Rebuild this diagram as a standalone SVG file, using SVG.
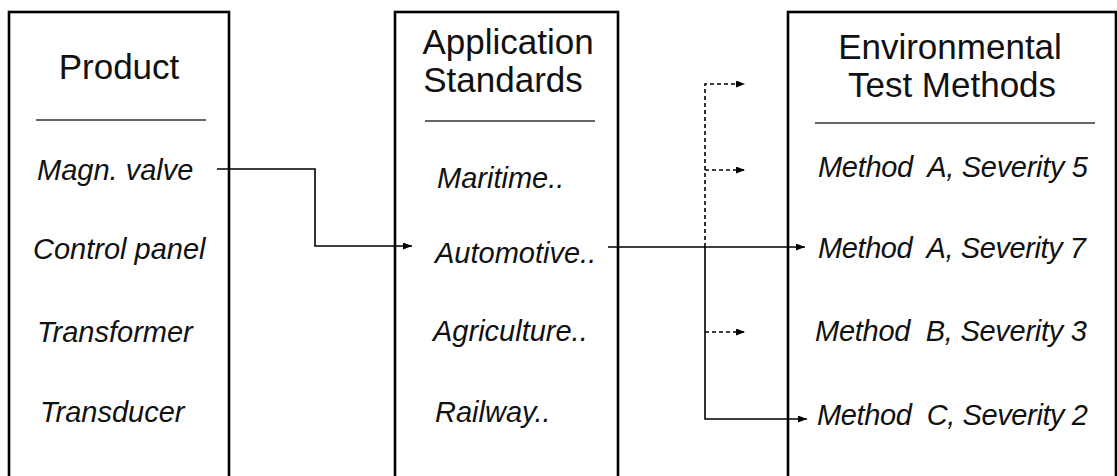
<svg xmlns="http://www.w3.org/2000/svg" width="1117" height="476" viewBox="0 0 1117 476">
<style>
.box{fill:#fff;stroke:#000;stroke-width:2.6}
.sep{stroke:#333;stroke-width:1.6}
.hd{font-family:"Liberation Sans",Arial,sans-serif;font-size:35px;fill:#111;text-anchor:middle}
.it{font-family:"Liberation Sans",Arial,sans-serif;font-size:29px;font-style:italic;fill:#111}
.ln{fill:none;stroke:#000;stroke-width:1.6}
.dl{fill:none;stroke:#000;stroke-width:1.6;stroke-dasharray:4 3}
</style>
<defs>
<marker id="ah" markerUnits="userSpaceOnUse" markerWidth="9" markerHeight="7" refX="9" refY="3.5" orient="auto">
<path d="M0,0 L9,3.5 L0,7 z" fill="#000"/>
</marker>
</defs>
<rect width="1117" height="476" fill="#fff"/>
<g id="product">
<rect class="box" x="9" y="12" width="220" height="480"/>
<text class="hd" x="119" y="79">Product</text>
<line class="sep" x1="36" y1="120" x2="206" y2="120"/>
<text class="it" x="37" y="180">Magn. valve</text>
<text class="it" x="33" y="259">Control panel</text>
<text class="it" x="37" y="342">Transformer</text>
<text class="it" x="40" y="422">Transducer</text>
</g>
<g id="standards">
<rect class="box" x="395" y="12" width="223" height="480"/>
<text class="hd" x="508" y="54">Application</text>
<text class="hd" x="503" y="92">Standards</text>
<line class="sep" x1="425" y1="121" x2="595" y2="121"/>
<text class="it" x="437" y="188">Maritime..</text>
<text class="it" x="435" y="263">Automotive..</text>
<text class="it" x="433" y="341">Agriculture..</text>
<text class="it" x="435" y="422">Railway..</text>
</g>
<g id="methods">
<rect class="box" x="788" y="12" width="328" height="480"/>
<text class="hd" x="950" y="59">Environmental</text>
<text class="hd" x="952" y="97">Test Methods</text>
<line class="sep" x1="815" y1="123" x2="1095" y2="123"/>
<text class="it" x="818" y="177" textLength="270" lengthAdjust="spacing" xml:space="preserve">Method  A, Severity 5</text>
<text class="it" x="818" y="258" textLength="268" lengthAdjust="spacing" xml:space="preserve">Method  A, Severity 7</text>
<text class="it" x="815" y="341" textLength="272" lengthAdjust="spacing" xml:space="preserve">Method  B, Severity 3</text>
<text class="it" x="817" y="425" textLength="271" lengthAdjust="spacing" xml:space="preserve">Method  C, Severity 2</text>
</g>
<g id="connectors">
<path class="ln" d="M217,169 H315 V246 H412" marker-end="url(#ah)"/>
<path class="ln" d="M608,247 H805" marker-end="url(#ah)"/>
<path class="ln" d="M705,247 V419 H807" marker-end="url(#ah)"/>
<path class="dl" d="M705,247 V84 H745" marker-end="url(#ah)"/>
<path class="dl" d="M705,170 H745" marker-end="url(#ah)"/>
<path class="dl" d="M705,332 H745" marker-end="url(#ah)"/>
</g>
</svg>
